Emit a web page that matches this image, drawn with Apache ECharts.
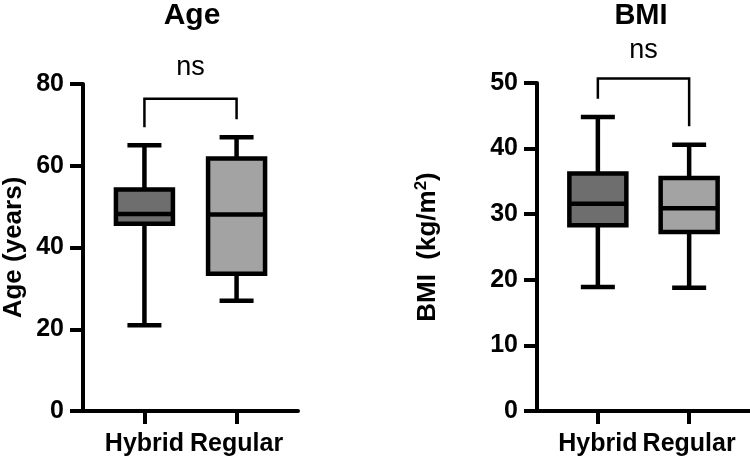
<!DOCTYPE html>
<html>
<head>
<meta charset="utf-8">
<script src="https://cdn.jsdelivr.net/npm/echarts@6/dist/echarts.min.js"></script>
<style>
  html, body { margin: 0; padding: 0; background: #fff; }
  #main { width: 750px; height: 459px; }
</style>
</head>
<body>
<div id="main"></div>
<script>
// categories on the x axis
var categories = ['Hybrid', 'Regular'];
// box values: [min, Q1, median, Q3, max]
var ageHybrid = [21, 45.8, 48.2, 54.2, 65];
var ageRegular = [27, 33.6, 48.1, 61.8, 67];
var bmiHybrid = [18.9, 28.3, 31.6, 36.2, 44.8];
var bmiRegular = [18.8, 27.3, 30.9, 35.5, 40.6];
// significance bracket (x index, y value) and label height
var ageBracket = [[0, 69.4], [0, 76.4], [1, 76.4], [1, 71.4]];
var bmiBracket = [[0, 47.6], [0, 50.7], [1, 50.7], [1, 43.4]];
var ageNsY = 84;
var bmiNsY = 55;
var sigLabel = 'ns';

var boxColors = ['#6e6e6e', '#a3a3a3'];
var FONT = '"Liberation Sans", Arial, sans-serif';

var chart = echarts.init(document.getElementById('main'));

// 自定义箱线图：须线端帽比箱体窄
function renderBox(params, api) {
    var x = api.value(0);
    var lo = api.coord([x, api.value(1)]);
    var q1 = api.coord([x, api.value(2)]);
    var md = api.coord([x, api.value(3)]);
    var q3 = api.coord([x, api.value(4)]);
    var hi = api.coord([x, api.value(5)]);
    var cx = lo[0], hw = 28.5, cw = 17;
    var ls = { stroke: '#000', lineWidth: 4.5 };
    return {
        type: 'group',
        children: [
            { type: 'line', shape: { x1: cx, y1: hi[1], x2: cx, y2: q3[1] }, style: ls },
            { type: 'line', shape: { x1: cx, y1: q1[1], x2: cx, y2: lo[1] }, style: ls },
            { type: 'line', shape: { x1: cx - cw, y1: hi[1], x2: cx + cw, y2: hi[1] }, style: ls },
            { type: 'line', shape: { x1: cx - cw, y1: lo[1], x2: cx + cw, y2: lo[1] }, style: ls },
            { type: 'rect', shape: { x: cx - hw, y: q3[1], width: hw * 2, height: q1[1] - q3[1] },
              style: { fill: boxColors[params.dataIndex], stroke: '#000', lineWidth: 4.5 } },
            { type: 'line', shape: { x1: cx - hw, y1: md[1], x2: cx + hw, y2: md[1] }, style: ls }
        ]
    };
}

function xAxisOpt(gridIndex) {
    return {
        type: 'value', gridIndex: gridIndex,
        min: -2 / 3, max: 5 / 3,
        splitLine: { show: false },
        axisLine: { show: true, onZero: false, lineStyle: { color: '#000', width: 4 } },
        axisTick: { show: true, customValues: [0, 1], length: 13, lineStyle: { color: '#000', width: 4 } },
        axisLabel: {
            customValues: [0, 1], margin: 21,
            formatter: function (v) { return categories[Math.round(v)]; },
            color: '#000', fontSize: 25, fontWeight: 'bold', fontFamily: FONT
        }
    };
}

function yAxisOpt(gridIndex, max, interval, name, nameGap) {
    return {
        type: 'value', gridIndex: gridIndex,
        min: 0, max: max, interval: interval,
        name: name, nameLocation: 'middle', nameRotate: 90, nameGap: nameGap,
        nameTextStyle: {
            color: '#000', fontSize: 26, fontWeight: 'bold', fontFamily: FONT,
            rich: {
                a: { color: '#000', fontSize: 26, fontWeight: 'bold', fontFamily: FONT },
                s: { color: '#000', fontSize: 17, fontWeight: 'bold', fontFamily: FONT, padding: [0, 0, 12, 0] }
            }
        },
        splitLine: { show: false },
        axisLine: { show: true, onZero: false, lineStyle: { color: '#000', width: 4 } },
        axisTick: { show: true, length: 13, lineStyle: { color: '#000', width: 4 } },
        axisLabel: { margin: 19, padding: [5, 0, 0, 0], color: '#000', fontSize: 25,
                     fontWeight: 'bold', fontFamily: FONT }
    };
}

function bracketSeries(idx, pts) {
    return {
        type: 'line', xAxisIndex: idx, yAxisIndex: idx,
        data: pts, symbol: 'none', clip: false, silent: true,
        lineStyle: { color: '#000', width: 2.5, join: 'miter' }
    };
}

function nsSeries(idx, y) {
    return {
        type: 'scatter', xAxisIndex: idx, yAxisIndex: idx,
        data: [[0.5, y]], symbolSize: 0, clip: false, silent: true,
        itemStyle: { opacity: 1 },
        label: { show: true, position: 'inside', formatter: sigLabel, opacity: 1,
                 color: '#000', fontSize: 27, fontFamily: FONT }
    };
}

var option = {
    animation: false,
    backgroundColor: '#fff',
    graphic: [
        { type: 'text', x: 192, y: 1, style: { text: 'Age', textAlign: 'center', fill: '#000',
          font: 'bold 30px ' + FONT } },
        { type: 'text', x: 641, y: 1, style: { text: 'BMI', textAlign: 'center', fill: '#000',
          font: 'bold 29px ' + FONT } }
    ],
    grid: [
        { left: 82, right: 452, top: 84, bottom: 48 },
        { left: 537, right: 0, top: 83, bottom: 48 }
    ],
    xAxis: [xAxisOpt(0), xAxisOpt(1)],
    yAxis: [
        yAxisOpt(0, 80, 20, 'Age (years)', 56),
        yAxisOpt(1, 50, 10, '{a|BMI  (kg/m}{s|2}{a|)}', 95)
    ],
    series: [
        {
            type: 'custom', xAxisIndex: 0, yAxisIndex: 0, renderItem: renderBox,
            data: [[0].concat(ageHybrid), [1].concat(ageRegular)]
        },
        {
            type: 'custom', xAxisIndex: 1, yAxisIndex: 1, renderItem: renderBox,
            data: [[0].concat(bmiHybrid), [1].concat(bmiRegular)]
        },
        bracketSeries(0, ageBracket),
        bracketSeries(1, bmiBracket),
        nsSeries(0, ageNsY),
        nsSeries(1, bmiNsY)
    ]
};

chart.setOption(option);
</script>
</body>
</html>
